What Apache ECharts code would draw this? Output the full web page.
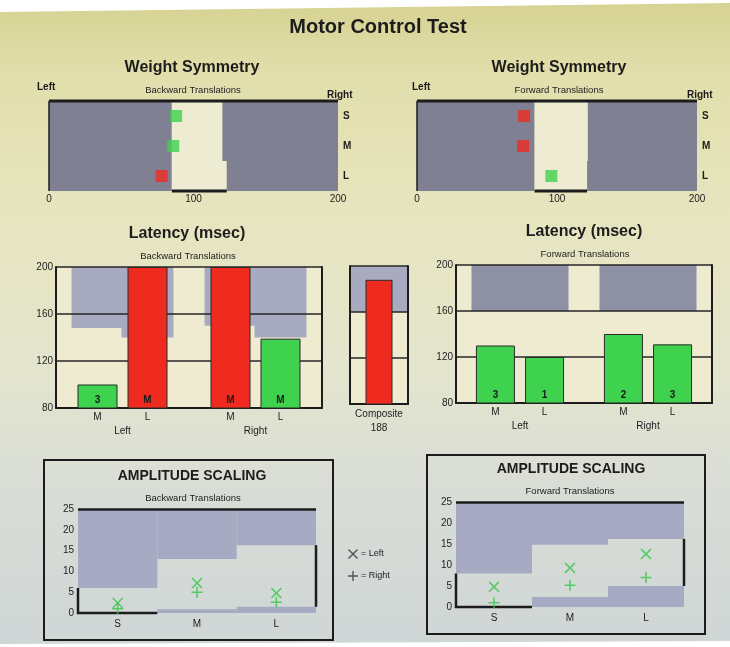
<!DOCTYPE html>
<html><head><meta charset="utf-8">
<script src="https://cdn.jsdelivr.net/npm/echarts@6/dist/echarts.min.js"></script>
<style>html,body{margin:0;padding:0;background:#fff;}#c{width:730px;height:647px;}</style>
</head><body><div id="c"></div>
<script>
// ---------- DATA ----------
// Weight symmetry (0..200, 100 = symmetric)
const wsRows = ['S', 'M', 'L'];
const wsTicks = [0, 100, 200];
const wsBackLow = [85, 85, 85];
const wsBackHigh = [120, 120, 123];
const wsBackVal = [88, 86, 78];
const wsFwdLow = [84, 84, 84];
const wsFwdHigh = [122, 122, 121.5];
const wsFwdVal = [76.5, 75.8, 96];

// Latency (msec)
const latGroups = ['Left', 'Right'];
const latSizes = ['M', 'L'];
const latTicks = [80, 120, 160, 200];
const latBackM = [100, 200];
const latBackL = [200, 139];
const latBackBandM = [148, 150];
const latBackBandL = [140, 140];
const latBackLabelM = ['3', 'M'];
const latBackLabelL = ['M', 'M'];
const latCompositeName = ['Composite'];
const latComposite = [188];
const latCompositeBand = [160];
const latFwdM = [130, 140];
const latFwdL = [120, 131];
const latFwdBand = [160, 160];
const latFwdLabelM = ['3', '2'];
const latFwdLabelL = ['1', '3'];

// Amplitude scaling
const ampCats = ['S', 'M', 'L'];
const ampTicks = [0, 5, 10, 15, 20, 25];
const ampBackLeft = [2.4, 7.2, 4.8];
const ampBackRight = [1.0, 5.0, 2.6];
const ampBackUpper = [6, 13, 16.3];
const ampBackLower = [0, 0.9, 1.5];
const ampFwdLeft = [4.8, 9.3, 12.6];
const ampFwdRight = [1.0, 5.2, 7.0];
const ampFwdUpper = [8, 14.8, 16.2];
const ampFwdLower = [0, 2.4, 5.0];

// ---------- STYLE ----------
const FONT = "'Liberation Sans', Arial, sans-serif";
const ink = '#1c1c1c';
const RED = '#ef2b1f', GREEN = '#3fd24e', MARK = '#36c64a';
const WSGRAY = '#7f8091', WSNORM = '#eeebd3';
const BAND1 = '#a8abbf', BAND2 = '#8e90a4', AMPB = '#a6abc3';
const XPATH = 'path://M0,1L1,0L5,4L9,0L10,1L6,5L10,9L9,10L5,6L1,10L0,9L4,5Z';
const PPATH = 'path://M4.3,0H5.7V4.3H10V5.7H5.7V10H4.3V5.7H0V4.3H4.3Z';

const wsMin = wsTicks[0], wsMax = wsTicks[wsTicks.length - 1];
const latMin = latTicks[0], latMax = latTicks[latTicks.length - 1];
const ampMin = ampTicks[0], ampMax = ampTicks[ampTicks.length - 1];

const grid = [
  {left: 49, top: 101, width: 289, height: 90},
  {left: 417, top: 101, width: 280, height: 90},
  {left: 56, top: 267, width: 266, height: 141, show: true, borderWidth: 0, backgroundColor: '#eeebd1'},
  {left: 350, top: 266, width: 58, height: 138, show: true, borderWidth: 0, backgroundColor: '#eeebd1'},
  {left: 456, top: 265, width: 256, height: 138, show: true, borderWidth: 0, backgroundColor: '#eeebd1'},
  {left: 78, top: 509, width: 238, height: 104},
  {left: 456, top: 502, width: 228, height: 105}
];

const xAxis = [], yAxis = [], series = [];
const lbl = {fontSize: 10, color: ink, fontFamily: FONT};

// ---- Weight symmetry ----
function wsFrame(params, api) {
  const lowL = api.value(0), row = api.value(1), highL = api.value(2);
  const h = api.size([0, 1])[1];
  const a = api.coord([wsMin, 0]), b = api.coord([wsMax, 0]);
  const c = api.coord([wsMin, row]);
  const n1 = api.coord([lowL, row]), n2 = api.coord([highL, row]);
  const top = a[1] - h / 2, bot = c[1] + h / 2;
  return {type: 'group', children: [
    {type: 'line', shape: {x1: a[0], y1: top, x2: b[0], y2: top}, style: {stroke: ink, lineWidth: 3}},
    {type: 'line', shape: {x1: a[0], y1: top, x2: a[0], y2: bot}, style: {stroke: ink, lineWidth: 1.5}},
    {type: 'line', shape: {x1: n1[0], y1: bot, x2: n2[0], y2: bot}, style: {stroke: ink, lineWidth: 3}}
  ]};
}
function wsPanel(g, low, high, vals) {
  const ai = xAxis.length;
  xAxis.push({gridIndex: g, type: 'value', min: wsMin, max: wsMax, interval: wsTicks[1] - wsTicks[0],
    axisLine: {show: false}, axisTick: {show: false}, splitLine: {show: false},
    axisLabel: Object.assign({margin: 3}, lbl)});
  yAxis.push({gridIndex: g, type: 'category', data: wsRows, inverse: true, position: 'right',
    axisLine: {show: false}, axisTick: {show: false}, splitLine: {show: false}, splitArea: {show: false},
    axisLabel: Object.assign({margin: 5, fontWeight: 'bold'}, lbl)});
  const base = {type: 'bar', xAxisIndex: ai, yAxisIndex: ai, stack: 'ws' + g, barCategoryGap: '0%', barWidth: '100%', silent: true, z: 1};
  series.push(Object.assign({}, base, {data: low, itemStyle: {color: WSGRAY}}));
  series.push(Object.assign({}, base, {data: high.map((h, i) => h - low[i]), itemStyle: {color: WSNORM}}));
  series.push(Object.assign({}, base, {data: high.map(h => wsMax - h), itemStyle: {color: WSGRAY}}));
  series.push({type: 'scatter', xAxisIndex: ai, yAxisIndex: ai, symbol: 'rect', symbolSize: 12, z: 4, silent: true,
    data: vals.map((v, i) => ({value: [v, i], itemStyle: {color: (v >= low[i] && v <= high[i]) ? GREEN : RED}}))});
  const last = wsRows.length - 1;
  series.push({type: 'custom', xAxisIndex: ai, yAxisIndex: ai, renderItem: wsFrame, encode: {x: 0, y: 1}, z: 5, silent: true,
    data: [[low[last], last, high[last]]]});
}
wsPanel(0, wsBackLow, wsBackHigh, wsBackVal);
wsPanel(1, wsFwdLow, wsFwdHigh, wsFwdVal);

// ---- Latency ----
function latAxes(g, cats, slotLabelW, labelFn) {
  const ai = xAxis.length;
  xAxis.push({gridIndex: g, type: 'category', data: cats, z: 2,
    axisLine: {show: true, onZero: false, lineStyle: {color: ink, width: 2}}, axisTick: {show: false},
    axisLabel: {interval: 0, margin: 3, formatter: labelFn, rich: {
      a: {width: slotLabelW, align: 'center', fontSize: 10, color: ink, fontFamily: FONT, lineHeight: 13},
      g: {align: 'center', fontSize: 10, color: ink, fontFamily: FONT, lineHeight: 14}}}});
  xAxis.push({gridIndex: g, type: 'category', data: cats, show: false});
  yAxis.push({gridIndex: g, type: 'value', min: latMin, max: latMax, interval: latTicks[1] - latTicks[0], z: 2,
    axisLine: {show: true, lineStyle: {color: ink, width: 2}}, axisTick: {show: false},
    axisLabel: Object.assign({show: true, margin: 3}, lbl),
    splitLine: {show: true, lineStyle: {color: '#262626', width: 1.5}}});
  yAxis.push({gridIndex: g, type: 'value', min: latMin, max: latMax, position: 'right', z: 2,
    axisLine: {show: true, lineStyle: {color: ink, width: 2}}, axisTick: {show: false},
    axisLabel: {show: false}, splitLine: {show: false}});
  return ai;
}
function bandStack(xi, yi, lows, width, gap, color, key) {
  const base = {type: 'bar', xAxisIndex: xi, yAxisIndex: yi, stack: key, barWidth: width, barGap: gap, silent: true, z: 1};
  series.push(Object.assign({}, base, {data: lows, itemStyle: {color: 'rgba(0,0,0,0)'}}));
  series.push(Object.assign({}, base, {data: lows.map(v => latMax - v), itemStyle: {color: color}}));
}
function latBars(xi, yi, name, vals, bands, labels, width, gap) {
  series.push({type: 'bar', name: name, xAxisIndex: xi, yAxisIndex: yi, barWidth: width, barGap: gap, z: 3, silent: true,
    data: vals.map((v, i) => ({value: v, itemStyle: {color: v > bands[i] ? RED : GREEN}})),
    itemStyle: {borderColor: '#2a2a2a', borderWidth: 1},
    label: {show: labels !== null, position: 'insideBottom', distance: 3, fontSize: 10, fontWeight: 'bold',
      color: '#1a1a1a', fontFamily: FONT, formatter: p => labels ? labels[p.dataIndex] : ''}});
}
const grpLabel = v => '{a|' + latSizes[0] + '}{a|' + latSizes[1] + '}\n{g|' + v + '}';

let ai = latAxes(2, latGroups, 50, grpLabel);
bandStack(ai + 1, ai, latBackBandM, 52, '-4%', BAND1, 'bm');
bandStack(ai + 1, ai, latBackBandL, 52, '-4%', BAND1, 'bl');
latBars(ai, ai, latSizes[0], latBackM, latBackBandM, latBackLabelM, 40, '25%');
latBars(ai, ai, latSizes[1], latBackL, latBackBandL, latBackLabelL, 40, '25%');

ai = latAxes(3, latCompositeName, 60, v => '{g|' + v + '}\n{g|' + latComposite[0] + '}');
yAxis[ai].axisLabel.show = false;
bandStack(ai + 1, ai, latCompositeBand, '100%', '0%', BAND1, 'bc');
latBars(ai, ai, 'Composite', latComposite, latCompositeBand, null, 27, '0%');

ai = latAxes(4, latGroups, 49, grpLabel);
bandStack(ai + 1, ai, latFwdBand, 97, '0%', BAND2, 'bf');
latBars(ai, ai, latSizes[0], latFwdM, latFwdBand, latFwdLabelM, 39, '26%');
latBars(ai, ai, latSizes[1], latFwdL, latFwdBand, latFwdLabelL, 39, '26%');

// ---- Amplitude scaling ----
function ampOutline(params, api) {
  const idx = api.value(0), low = api.value(1), up = api.value(2);
  const hw = api.size([1, 0])[0] / 2;
  const p1 = api.coord([idx, up]), p0 = api.coord([idx, low]);
  const st = {stroke: ink, lineWidth: 2.5, fill: null};
  if (idx === 0) {
    return {type: 'polyline', shape: {points: [[p1[0] - hw, p1[1]], [p0[0] - hw, p0[1]], [p0[0] + hw, p0[1]]]}, style: st};
  }
  if (idx === ampCats.length - 1) {
    return {type: 'polyline', shape: {points: [[p1[0] + hw, p1[1]], [p0[0] + hw, p0[1]]]}, style: st};
  }
  return {type: 'group', children: []};
}
function ampPanel(g, upper, lower, left, right) {
  const ai = xAxis.length;
  xAxis.push({gridIndex: g, type: 'category', data: ampCats, axisLine: {show: false}, axisTick: {show: false},
    axisLabel: Object.assign({margin: 6}, lbl)});
  yAxis.push({gridIndex: g, type: 'value', min: ampMin, max: ampMax, interval: ampTicks[1] - ampTicks[0],
    axisLine: {show: false}, axisTick: {show: false}, splitLine: {show: false},
    axisLabel: Object.assign({margin: 4}, lbl)});
  const base = {type: 'bar', xAxisIndex: ai, yAxisIndex: ai, barCategoryGap: '0%', barGap: '-100%', silent: true, z: 1};
  series.push(Object.assign({}, base, {stack: 'at' + g, data: upper, itemStyle: {color: 'rgba(0,0,0,0)'}}));
  series.push(Object.assign({}, base, {stack: 'at' + g, data: upper.map(v => ampMax - v), itemStyle: {color: AMPB},
    markLine: {silent: true, symbol: 'none', label: {show: false}, lineStyle: {color: ink, width: 2.5, type: 'solid'},
      data: [{yAxis: ampMax}]}}));
  series.push(Object.assign({}, base, {data: lower, itemStyle: {color: AMPB}}));
  series.push({type: 'custom', xAxisIndex: ai, yAxisIndex: ai, renderItem: ampOutline, encode: {x: 0, y: 1}, z: 4, silent: true,
    data: ampCats.map((c, i) => [i, lower[i], upper[i]])});
  series.push({type: 'scatter', name: 'Left', xAxisIndex: ai, yAxisIndex: ai, symbol: XPATH, symbolSize: 11, z: 5, silent: true,
    itemStyle: {color: MARK}, data: left.map((v, i) => [i, v])});
  series.push({type: 'scatter', name: 'Right', xAxisIndex: ai, yAxisIndex: ai, symbol: PPATH, symbolSize: 11, z: 5, silent: true,
    itemStyle: {color: MARK}, data: right.map((v, i) => [i, v])});
}
ampPanel(5, ampBackUpper, ampBackLower, ampBackLeft, ampBackRight);
ampPanel(6, ampFwdUpper, ampFwdLower, ampFwdLeft, ampFwdRight);

// ---------- TEXT / DECORATION ----------
function txt(t, x, y, size, bold, align) {
  return {type: 'text', x: x, y: y, silent: true, z: 10,
    style: {text: t, fill: ink, font: (bold ? 'bold ' : '') + size + 'px ' + FONT,
      textAlign: align || 'center', textVerticalAlign: 'middle'}};
}
const graphic = [
  {type: 'polygon', shape: {points: [[0, 0], [730, 0], [730, 3], [0, 12]]}, style: {fill: '#ffffff'}, z: 20, silent: true},
  {type: 'polygon', shape: {points: [[0, 644], [730, 641], [730, 647], [0, 647]]}, style: {fill: '#ffffff'}, z: 20, silent: true},
  txt('Motor Control Test', 378, 27, 20, true),
  txt('Weight Symmetry', 192, 68, 16, true),
  txt('Weight Symmetry', 559, 68, 16, true),
  txt('Left', 37, 87, 10, true, 'left'),
  txt('Right', 327, 95, 10, true, 'left'),
  txt('Left', 412, 87, 10, true, 'left'),
  txt('Right', 687, 95, 10, true, 'left'),
  txt('Backward Translations', 193, 90, 9.5, false),
  txt('Forward Translations', 559, 90, 9.5, false),
  txt('Latency (msec)', 187, 234, 16, true),
  txt('Latency (msec)', 584, 232, 16, true),
  txt('Backward Translations', 188, 256, 9.5, false),
  txt('Forward Translations', 585, 254, 9.5, false),
  txt('AMPLITUDE SCALING', 192, 476, 14, true),
  txt('AMPLITUDE SCALING', 571, 469, 14, true),
  txt('Backward Translations', 193, 498, 9.5, false),
  txt('Forward Translations', 570, 491, 9.5, false),
  {type: 'rect', shape: {x: 44, y: 460, width: 289, height: 180}, style: {fill: null, stroke: ink, lineWidth: 2}, z: 10, silent: true},
  {type: 'rect', shape: {x: 427, y: 455, width: 278, height: 179}, style: {fill: null, stroke: ink, lineWidth: 2}, z: 10, silent: true}
];

const chart = echarts.init(document.getElementById('c'));
chart.setOption({
  animation: false,
  backgroundColor: {type: 'linear', x: 0, y: 0, x2: 0, y2: 1, colorStops: [
    {offset: 0, color: '#d6d292'}, {offset: 0.12, color: '#e2dfad'}, {offset: 0.35, color: '#e7e5c0'},
    {offset: 0.6, color: '#e2e4cf'}, {offset: 0.75, color: '#d9ddd6'}, {offset: 1, color: '#cfd6d6'}]},
  textStyle: {fontFamily: FONT},
  grid: grid, xAxis: xAxis, yAxis: yAxis, series: series, graphic: graphic,
  legend: {data: [{name: 'Left', icon: XPATH}, {name: 'Right', icon: PPATH}], orient: 'vertical', left: 343, top: 544,
    itemWidth: 10, itemHeight: 10, itemGap: 12, selectedMode: false, formatter: n => '= ' + n,
    itemStyle: {color: '#333'}, textStyle: {fontSize: 9, color: ink, fontFamily: FONT, padding: [0, 0, 0, -2]}}
});
</script></body></html>
